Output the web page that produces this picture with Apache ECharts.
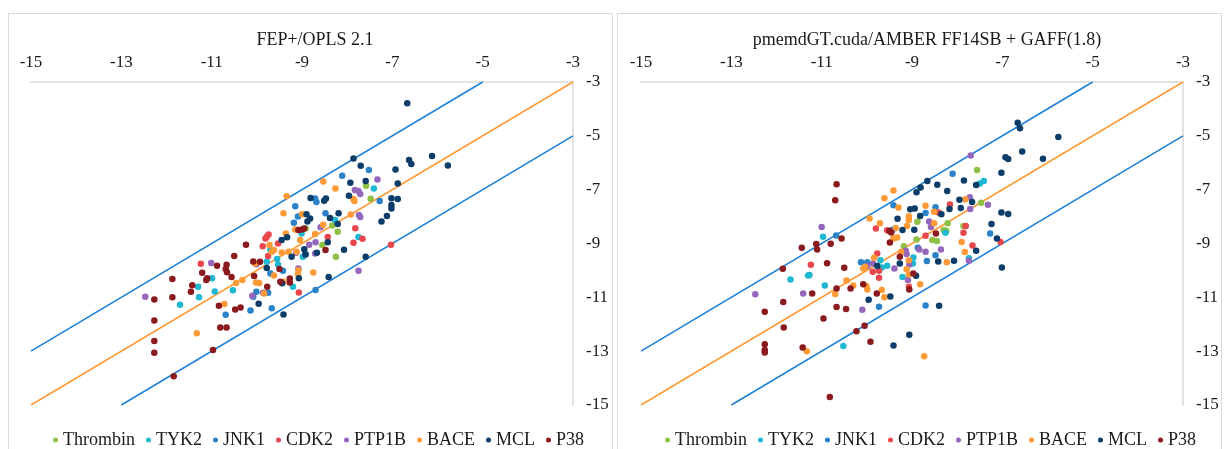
<!DOCTYPE html>
<html>
<head>
<meta charset="utf-8">
<script src="https://cdn.jsdelivr.net/npm/echarts@6/dist/echarts.min.js"></script>
<style>
  html, body { margin: 0; padding: 0; background: #fff; }
  #main { width: 1224px; height: 449px; }
</style>
</head>
<body>
<div id="main"></div>
<script>
// 系列名称和颜色
const categories = ['Thrombin', 'TYK2', 'JNK1', 'CDK2', 'PTP1B', 'BACE', 'MCL', 'P38'];
const colors = ['#8DC044', '#1FB8D2', '#2B82C9', '#E8474E', '#9467BD', '#FF9A36', '#0C3C68', '#8B1A1F'];
const panelTitles = ['FEP+/OPLS 2.1', 'pmemdGT.cuda/AMBER FF14SB + GAFF(1.8)'];
const axisTicks = [-15, -13, -11, -9, -7, -5, -3];

// 参考线 (y = x, y = x + 2, y = x - 2)
const diagLine = [[-15, -15], [-3, -3]];
const upperLine = [[-15, -13], [-5, -3]];
const lowerLine = [[-13, -15], [-3, -5]];

// 左图: FEP+/OPLS 2.1
const fepThrombin = [[-7.58,-6.85],[-7.48,-7.34],[-8.21,-8.56],[-8.33,-8.33],[-8.92,-8.44],[-8.55,-9.06],[-8.25,-9.49]];
const fepTYK2 = [[-7.41,-6.96],[-8.27,-8.13],[-9.01,-8.63],[-7.75,-8.76],[-9.70,-9.22],[-10.99,-10.29],[-11.30,-10.61],[-11.28,-11.00],
  [-10.93,-10.78],[-11.70,-11.28],[-10.53,-10.74],[-9.78,-9.68],[-9.55,-9.58],[-9.53,-9.79],[-9.20,-10.61],[-8.98,-9.49]];
const fepJNK1 = [[-7.52,-6.27],[-8.11,-6.48],[-7.28,-7.42],[-8.71,-7.33],[-8.68,-7.46],[-9.15,-7.62],[-9.18,-8.23],[-9.09,-8.00],
  [-8.48,-7.88],[-10.69,-11.65],[-9.42,-10.01],[-9.70,-10.11],[-9.75,-10.83],[-10.01,-10.79],[-10.08,-10.98],[-9.67,-11.41],
  [-10.14,-11.49],[-8.70,-10.73]];
const fepCDK2 = [[-7.82,-8.43],[-9.78,-8.75],[-9.74,-8.67],[-9.81,-8.81],[-8.43,-8.76],[-7.66,-8.82],[-7.86,-8.97],[-9.53,-9.00],
  [-9.87,-9.10],[-9.75,-9.46],[-7.03,-9.05],[-11.24,-9.75],[-9.07,-10.82]];
const fepPTP1B = [[-7.33,-6.62],[-7.83,-7.01],[-7.75,-7.05],[-7.71,-7.16],[-7.74,-7.94],[-7.71,-8.02],[-8.59,-8.40],[-8.84,-9.05],
  [-8.70,-8.95],[-8.93,-9.39],[-8.71,-9.37],[-11.01,-9.72],[-12.47,-10.98],[-10.01,-9.77],[-10.10,-10.94],[-9.86,-10.83],
  [-9.08,-9.93],[-9.13,-9.34],[-7.75,-10.01]];
const fepBACE = [[-8.53,-6.70],[-8.26,-6.96],[-7.86,-7.35],[-7.84,-7.42],[-7.92,-7.92],[-9.34,-7.24],[-9.41,-7.88],[-9.00,-7.91],
  [-8.53,-8.30],[-9.15,-8.48],[-9.36,-8.63],[-8.71,-8.65],[-9.04,-8.87],[-9.72,-9.06],[-9.62,-9.24],[-9.45,-9.33],[-9.12,-9.31],
  [-11.33,-12.33],[-10.46,-10.47],[-10.32,-10.36],[-10.72,-11.25],[-10.04,-9.74],[-10.02,-10.45],[-9.95,-10.47],[-9.62,-10.19],
  [-9.41,-10.42],[-9.84,-10.86],[-9.08,-9.99],[-9.09,-10.14],[-8.75,-10.08],[-9.67,-9.31],[-9.30,-9.31]];
const fepMCL = [[-6.67,-3.79],[-7.86,-5.84],[-7.70,-6.11],[-6.93,-6.25],[-6.63,-5.90],[-6.58,-6.05],[-6.12,-5.75],[-5.77,-6.10],
  [-7.93,-6.74],[-7.59,-6.68],[-6.88,-6.77],[-7.96,-7.23],[-7.02,-7.32],[-6.88,-7.35],[-7.02,-7.57],[-7.02,-7.70],[-7.12,-7.98],
  [-7.24,-8.18],[-8.81,-7.31],[-8.47,-7.33],[-8.51,-7.41],[-8.90,-7.91],[-8.82,-8.07],[-8.88,-8.18],[-8.19,-7.88],[-8.38,-8.05],
  [-8.21,-8.28],[-9.33,-8.77],[-8.43,-8.95],[-9.45,-8.87],[-8.95,-9.21],[-8.07,-9.23],[-8.67,-9.34],[-7.59,-9.49],[-9.23,-9.49],
  [-9.78,-9.91],[-9.44,-10.48],[-9.96,-11.24],[-9.41,-11.64],[-9.07,-10.29],[-8.92,-9.41],[-8.41,-10.24]];
const fepP38 = [[-9.08,-8.50],[-9.00,-8.48],[-8.95,-8.44],[-10.24,-9.05],[-8.48,-9.24],[-10.50,-9.46],[-10.88,-9.83],[-10.67,-9.79],
  [-10.69,-9.95],[-10.66,-10.07],[-11.21,-10.09],[-11.10,-10.29],[-11.12,-10.36],[-10.56,-10.24],[-11.87,-10.32],[-11.43,-10.55],
  [-11.46,-10.79],[-11.87,-11.00],[-12.27,-11.08],[-12.27,-11.86],[-12.27,-12.62],[-12.27,-13.06],[-11.84,-13.93],[-10.97,-12.96],
  [-10.84,-11.31],[-10.48,-11.45],[-10.36,-11.38],[-10.81,-12.12],[-10.67,-12.12],[-10.08,-9.67],[-9.93,-9.68],[-10.06,-10.21],
  [-9.77,-10.61],[-9.48,-10.42],[-9.27,-10.30],[-9.27,-10.45],[-9.50,-9.95]];

// 右图: pmemdGT.cuda/AMBER FF14SB + GAFF(1.8)
const ambThrombin = [[-7.56,-6.27],[-7.47,-7.49],[-8.88,-8.19],[-7.86,-8.35],[-8.30,-8.50],[-8.24,-8.54],[-8.21,-8.25],[-8.90,-8.85],
  [-8.55,-8.87],[-8.45,-8.91],[-9.18,-9.10]];
const ambTYK2 = [[-7.41,-6.68],[-7.50,-6.77],[-7.74,-9.55],[-8.26,-8.60],[-8.97,-9.52],[-8.98,-9.74],[-10.97,-8.75],[-9.70,-9.62],
  [-9.55,-9.83],[-11.69,-10.34],[-11.30,-10.19],[-11.27,-10.17],[-10.93,-10.56],[-10.52,-12.81],[-9.67,-9.89],[-9.21,-10.24]];
const ambJNK1 = [[-8.10,-6.41],[-9.41,-7.58],[-8.48,-7.65],[-8.70,-7.87],[-9.43,-8.49],[-7.27,-8.63],[-8.87,-9.16],[-8.48,-9.44],
  [-8.67,-9.65],[-10.68,-8.70],[-10.13,-9.70],[-9.99,-9.70],[-9.73,-11.35],[-8.70,-11.30]];
const ambCDK2 = [[-8.16,-7.55],[-8.41,-7.85],[-9.80,-8.44],[-9.55,-8.51],[-7.04,-8.94],[-7.81,-8.35],[-7.86,-8.60],[-7.66,-9.07],
  [-8.70,-8.71],[-11.24,-9.79],[-9.77,-9.37],[-9.87,-10.05],[-9.73,-10.01],[-9.73,-10.27],[-9.07,-10.61]];
const ambPTP1B = [[-7.70,-5.73],[-7.72,-7.28],[-7.32,-7.56],[-7.71,-7.72],[-8.62,-8.18],[-8.58,-8.39],[-8.84,-9.22],[-8.70,-9.31],
  [-8.36,-9.22],[-9.14,-9.27],[-9.12,-9.39],[-9.06,-9.78],[-11.00,-8.39],[-9.86,-9.74],[-9.39,-9.93],[-12.47,-10.89],[-11.41,-10.86],
  [-9.99,-9.84],[-9.09,-10.36],[-10.10,-11.46],[-7.74,-9.64]];
const ambBACE = [[-9.41,-7.03],[-9.61,-7.32],[-7.82,-7.36],[-9.30,-7.66],[-8.70,-7.60],[-8.51,-7.82],[-9.07,-7.99],[-9.07,-8.13],
  [-9.11,-8.35],[-9.94,-8.07],[-9.71,-8.25],[-8.51,-8.25],[-9.36,-8.42],[-7.90,-8.94],[-7.83,-9.32],[-8.23,-9.70],[-9.41,-8.81],
  [-9.33,-8.78],[-9.24,-9.31],[-9.07,-9.62],[-9.84,-9.53],[-10.04,-9.87],[-11.33,-13.00],[-10.45,-10.37],[-10.70,-10.88],
  [-10.30,-10.56],[-10.01,-10.58],[-9.99,-10.71],[-10.08,-9.93],[-9.67,-10.73],[-9.61,-11.00],[-9.12,-9.96],[-9.07,-10.15],
  [-8.82,-10.51],[-8.73,-13.19]];
const ambMCL = [[-6.66,-4.51],[-6.61,-4.72],[-5.76,-5.04],[-6.56,-5.58],[-6.93,-5.80],[-6.87,-5.86],[-6.10,-5.85],[-7.02,-6.37],
  [-7.85,-6.66],[-7.58,-6.83],[-8.66,-6.68],[-8.81,-6.92],[-8.90,-7.10],[-8.44,-6.82],[-8.22,-7.05],[-7.95,-7.37],[-7.67,-7.46],
  [-7.92,-7.68],[-8.17,-7.72],[-9.04,-7.73],[-8.94,-7.70],[-8.35,-7.91],[-8.82,-7.98],[-9.32,-8.08],[-9.21,-8.50],[-8.95,-8.49],
  [-7.24,-8.28],[-7.02,-7.85],[-6.87,-7.90],[-7.12,-8.81],[-7.58,-9.27],[-8.42,-9.67],[-8.07,-9.64],[-9.27,-9.74],[-7.01,-9.89],
  [-9.77,-9.84],[-9.48,-10.97],[-9.96,-11.09],[-9.41,-12.79],[-9.06,-12.39],[-8.91,-10.20],[-8.40,-11.31]];
const ambP38 = [[-10.67,-6.80],[-10.70,-7.39],[-9.50,-8.54],[-9.46,-8.59],[-8.47,-8.63],[-9.49,-8.96],[-9.27,-9.49],[-11.44,-9.16],
  [-11.12,-9.02],[-11.10,-9.22],[-10.80,-9.01],[-10.56,-8.81],[-10.88,-9.73],[-10.50,-9.90],[-11.86,-9.94],[-11.85,-11.17],
  [-12.26,-11.54],[-11.21,-10.86],[-11.84,-12.12],[-12.26,-12.74],[-12.26,-12.96],[-12.26,-13.05],[-11.42,-12.86],[-10.96,-11.79],
  [-10.82,-14.70],[-10.67,-10.67],[-10.67,-11.36],[-10.46,-11.43],[-10.36,-10.67],[-10.23,-12.26],[-10.05,-12.06],[-9.92,-12.65],
  [-10.08,-10.51],[-9.78,-10.86],[-8.97,-10.11],[-9.06,-10.71]];

const panelData = [
  [fepThrombin, fepTYK2, fepJNK1, fepCDK2, fepPTP1B, fepBACE, fepMCL, fepP38],
  [ambThrombin, ambTYK2, ambJNK1, ambCDK2, ambPTP1B, ambBACE, ambMCL, ambP38]
];

const chart = echarts.init(document.getElementById('main'));
const fontFamily = "'Liberation Serif', 'Times New Roman', serif";
const textColor = '#1a1a1a';

const grids = [
  { left: 31, top: 82, width: 542, height: 323 },
  { left: 641, top: 82, width: 542, height: 323 }
];

function makeAxis(i, isX) {
  return {
    type: 'value',
    gridIndex: i,
    position: isX ? 'top' : 'right',
    min: -15,
    max: -3,
    interval: 2,
    axisLine: { show: true, onZero: false, lineStyle: { color: '#d9d9d9', width: 1.5 } },
    axisTick: { show: false },
    splitLine: { show: false },
    axisLabel: {
      color: textColor,
      fontFamily: fontFamily,
      fontSize: 17,
      margin: isX ? 11 : 13,
      customValues: axisTicks
    }
  };
}

const series = [];
[0, 1].forEach(i => {
  [[diagLine, '#FF9A36'], [upperLine, '#1B7FD6'], [lowerLine, '#1B7FD6']].forEach(([pts, c]) => {
    series.push({
      type: 'line',
      xAxisIndex: i,
      yAxisIndex: i,
      data: pts,
      symbol: 'none',
      silent: true,
      z: 1,
      lineStyle: { color: c, width: 1.5 }
    });
  });
  categories.forEach((name, k) => {
    series.push({
      type: 'scatter',
      name: name,
      xAxisIndex: i,
      yAxisIndex: i,
      data: panelData[i][k],
      symbolSize: 6.5,
      z: 2,
      itemStyle: { color: colors[k], opacity: 1 }
    });
  });
});

const legendBase = {
  data: categories,
  top: 426,
  icon: 'circle',
  itemWidth: 5,
  itemHeight: 5,
  itemGap: 11,
  textStyle: { color: textColor, fontFamily: fontFamily, fontSize: 18 }
};

const option = {
  animation: false,
  backgroundColor: '#fff',
  title: panelTitles.map((t, i) => ({
    text: t,
    left: i === 0 ? 310 : 922,
    top: 26,
    textAlign: 'center',
    textStyle: { color: textColor, fontFamily: fontFamily, fontSize: 18, fontWeight: 'normal' }
  })),
  graphic: [
    { type: 'rect', shape: { x: 8.5, y: 13.5, width: 604, height: 450 }, style: { fill: 'none', stroke: '#d9d9d9', lineWidth: 1 }, silent: true },
    { type: 'rect', shape: { x: 617.5, y: 13.5, width: 604, height: 450 }, style: { fill: 'none', stroke: '#d9d9d9', lineWidth: 1 }, silent: true }
  ],
  legend: [
    Object.assign({}, legendBase, { left: 48 }),
    Object.assign({}, legendBase, { left: 660 })
  ],
  grid: grids,
  xAxis: [makeAxis(0, true), makeAxis(1, true)],
  yAxis: [makeAxis(0, false), makeAxis(1, false)],
  series: series
};

chart.setOption(option);
</script>
</body>
</html>
